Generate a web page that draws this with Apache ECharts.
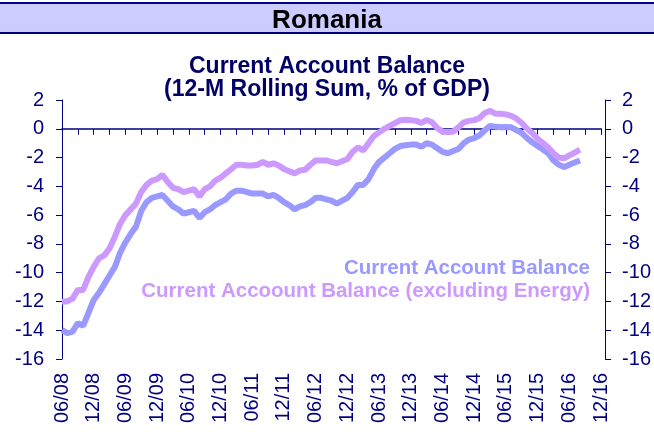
<!DOCTYPE html>
<html>
<head>
<meta charset="utf-8">
<script src="https://cdn.jsdelivr.net/npm/echarts@6/dist/echarts.min.js"></script>
<style>
  html, body { margin: 0; padding: 0; background: #ffffff; }
  #chart { width: 654px; height: 436px; }
</style>
</head>
<body>
<div id="chart"></div>
<script>
// Monthly axis from 06/08 to 12/16, labelled MM/YY
const startYear = 2008;
const startMonth = 6;
const monthCount = 103;
const months = [];
for (let i = 0; i < monthCount; i++) {
  const t = startMonth - 1 + i;
  const mm = (t % 12) + 1;
  const yy = (startYear + Math.floor(t / 12)) % 100;
  months.push(String(mm).padStart(2, '0') + '/' + String(yy).padStart(2, '0'));
}

// 12-month rolling current account balance, % of GDP (06/08 .. 08/16)
const currentAccount = [
  -14.0, -14.2, -14.1, -13.5, -13.7, -12.8, -11.9, -11.4, -10.8, -10.2,
  -9.6, -8.6, -7.9, -7.3, -6.8, -5.7, -5.1, -4.8, -4.7, -4.6,
  -5.0, -5.4, -5.6, -5.9, -5.8, -5.7, -6.2, -5.8, -5.6, -5.3,
  -5.1, -4.9, -4.5, -4.3, -4.3, -4.4, -4.5, -4.5, -4.5, -4.7,
  -4.6, -4.8, -5.1, -5.3, -5.6, -5.4, -5.3, -5.1, -4.8, -4.8,
  -4.9, -5.0, -5.2, -5.0, -4.8, -4.4, -3.9, -3.9, -3.5, -2.8,
  -2.3, -2.0, -1.7, -1.4, -1.2, -1.15, -1.1, -1.1, -1.25, -1.0,
  -1.1, -1.35, -1.6, -1.7, -1.55, -1.4, -1.0, -0.75, -0.65, -0.45,
  -0.1, 0.2, 0.15, 0.1, 0.12, 0.1, -0.1, -0.3, -0.65, -0.95,
  -1.2, -1.45, -1.7, -2.2, -2.5, -2.65, -2.5, -2.35, -2.2
];

// Same balance excluding energy trade
const currentAccountExEnergy = [
  -12.0, -12.0, -11.8, -11.2, -11.2, -10.3, -9.6, -9.0, -8.8, -8.3,
  -7.5, -6.6, -6.0, -5.6, -5.2, -4.4, -3.9, -3.6, -3.5, -3.2,
  -3.7, -4.1, -4.2, -4.4, -4.3, -4.2, -4.7, -4.2, -4.0, -3.6,
  -3.4, -3.1, -2.8, -2.5, -2.5, -2.55, -2.55, -2.5, -2.3, -2.5,
  -2.4, -2.55, -2.8, -2.95, -3.1, -2.9, -2.85, -2.5, -2.2, -2.2,
  -2.2, -2.3, -2.4, -2.25, -2.1, -1.6, -1.3, -1.5, -1.0, -0.5,
  -0.25, 0.0, 0.2, 0.4, 0.6, 0.62, 0.6, 0.55, 0.4, 0.62,
  0.45, 0.05, -0.2, -0.22, -0.2, 0.1, 0.45, 0.55, 0.6, 0.75,
  1.1, 1.25, 1.05, 1.05, 1.0, 0.9, 0.7, 0.4, 0.0, -0.3,
  -0.7, -1.0, -1.3, -1.7, -2.0, -2.05, -1.85, -1.65, -1.45
];

const seriesNames = ['Current Account Balance', 'Current Accoount Balance (excluding Energy)'];
const seriesColors = ['#9999ff', '#cc99ff'];
const yRange = { min: -16, max: 2, interval: 2 };

const navy = '#000080';
const font = '"Liberation Sans", Arial, sans-serif';

const chart = echarts.init(document.getElementById('chart'), null, { renderer: 'canvas' });

const yAxisBase = (pos, margin, offset) => ({
  type: 'value',
  position: pos,
  offset: offset,
  min: yRange.min,
  max: yRange.max,
  interval: yRange.interval,
  splitLine: { show: false },
  axisLine: { show: true, lineStyle: { color: navy, width: 1 } },
  axisTick: { show: true, inside: false, length: 6, lineStyle: { color: navy } },
  axisLabel: { color: navy, fontSize: 20, fontFamily: font, margin: margin }
});

chart.setOption({
  animation: false,
  backgroundColor: '#ffffff',
  title: [
    {
      text: 'Romania',
      left: 'center',
      top: 3,
      textStyle: { color: '#000000', fontSize: 26, fontWeight: 'bold', fontFamily: font }
    },
    {
      text: 'Current Account Balance\n(12-M Rolling Sum, % of GDP)',
      left: 'center',
      top: 50,
      textStyle: { color: '#000066', fontSize: 23, fontWeight: 'bold', fontFamily: font, lineHeight: 23 }
    }
  ],
  graphic: [
    { type: 'rect', z: -10, shape: { x: 0, y: 3, width: 654, height: 30 }, style: { fill: '#ccccff' } },
    { type: 'line', shape: { x1: 0, y1: 3, x2: 654, y2: 3 }, style: { stroke: navy, lineWidth: 2 } },
    { type: 'line', shape: { x1: 0, y1: 33, x2: 654, y2: 33 }, style: { stroke: navy, lineWidth: 2 } },
    {
      type: 'text', x: 590, y: 268,
      style: { text: seriesNames[0], fill: seriesColors[0], font: 'bold 20.5px ' + font, textAlign: 'right', textVerticalAlign: 'middle' }
    },
    {
      type: 'text', x: 590, y: 291,
      style: { text: seriesNames[1], fill: seriesColors[1], font: 'bold 20.5px ' + font, textAlign: 'right', textVerticalAlign: 'middle' }
    }
  ],
  grid: { left: 62, right: 52, top: 100, bottom: 77, containLabel: false },
  xAxis: [
    {
      type: 'category',
      data: months,
      boundaryGap: false,
      position: 'bottom',
      axisLine: { show: true, onZero: true, lineStyle: { color: navy, width: 1.5 } },
      axisTick: { show: true, interval: 2, length: 6, inside: false, lineStyle: { color: navy } },
      axisLabel: { show: false },
      splitLine: { show: false }
    },
    {
      type: 'category',
      data: months,
      boundaryGap: false,
      position: 'bottom',
      axisLine: { show: false, onZero: false },
      axisTick: { show: false },
      axisLabel: { show: true, interval: 5, rotate: 90, margin: 14, color: navy, fontSize: 20, fontFamily: font },
      splitLine: { show: false }
    }
  ],
  yAxis: [yAxisBase('left', 18, 0), yAxisBase('right', 17, 4)],
  series: [
    {
      name: seriesNames[0],
      type: 'line',
      xAxisIndex: 0,
      yAxisIndex: 0,
      data: currentAccount,
      showSymbol: false,
      lineStyle: { color: seriesColors[0], width: 6 },
      itemStyle: { color: seriesColors[0] }
    },
    {
      name: seriesNames[1],
      type: 'line',
      xAxisIndex: 0,
      yAxisIndex: 0,
      data: currentAccountExEnergy,
      showSymbol: false,
      lineStyle: { color: seriesColors[1], width: 6 },
      itemStyle: { color: seriesColors[1] }
    }
  ]
});
</script>
</body>
</html>
